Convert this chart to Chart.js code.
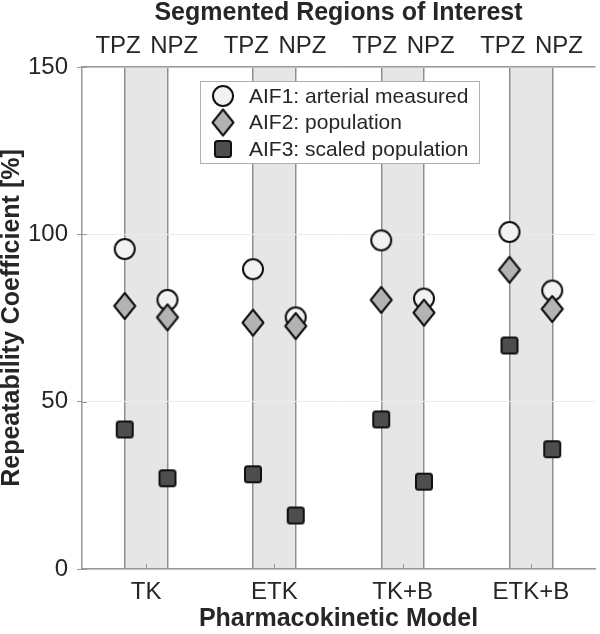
<!DOCTYPE html>
<html>
<head>
<meta charset="utf-8">
<script src="https://cdn.jsdelivr.net/npm/chart.js@4"></script>
<style>
  html, body { margin: 0; padding: 0; background: #fff; }
  #wrap { width: 600px; height: 634px; }
</style>
</head>
<body>
<div id="wrap"><canvas id="rcChart"></canvas></div>
<script>
// values
const models = ['TK', 'ETK', 'TK+B', 'ETK+B'];
const regions = ['TPZ', 'NPZ'];
const yTicks = [0, 50, 100, 150];

const aif1TPZ = [95.6, 89.6, 98.2, 100.7];
const aif1NPZ = [80.4, 75.2, 80.8, 83.2];
const aif2TPZ = [78.6, 73.6, 80.4, 89.4];
const aif2NPZ = [75.2, 72.6, 76.6, 77.7];
const aif3TPZ = [41.7, 28.3, 44.7, 66.8];
const aif3NPZ = [27.1, 16.0, 26.1, 35.8];

const seriesLabels = ['AIF1: arterial measured', 'AIF2: population', 'AIF3: scaled population'];

const OFF = 1 / 6;       // TPZ / NPZ offset around each model
const TEXT = '#262626';
const AXIS = '#999999';
const FONT = '"Liberation Sans", Arial, Helvetica, sans-serif';

Chart.defaults.font.family = FONT;
Chart.defaults.color = TEXT;

// region positions on the x scale: TPZ left, NPZ right of each model
const regionPos = [];
const regionText = [];
models.forEach((m, i) => {
    regionPos.push(i + 1 - OFF, i + 1 + OFF);
    regionText.push(regions[0] + '  ', '  ' + regions[1]);
});

function pairs(tpz, npz) {
    const pts = [];
    models.forEach((m, i) => {
        pts.push({ x: i + 1 - OFF, y: tpz[i] });
        pts.push({ x: i + 1 + OFF, y: npz[i] });
    });
    return pts;
}

// marker images
function makeMarker(kind) {
    const c = document.createElement('canvas');
    const ctx = c.getContext('2d');
    if (kind === 'circle') {
        c.width = 24; c.height = 24;
        ctx.lineWidth = 2;
        ctx.strokeStyle = '#111';
        ctx.fillStyle = '#f2f2f2';
        ctx.beginPath();
        ctx.arc(12, 12, 10, 0, Math.PI * 2);
        ctx.fill(); ctx.stroke();
    } else if (kind === 'diamond') {
        c.width = 26; c.height = 30;
        ctx.lineWidth = 2;
        ctx.strokeStyle = '#111';
        ctx.lineJoin = 'round';
        ctx.fillStyle = '#b3b3b3';
        ctx.beginPath();
        ctx.moveTo(13, 2); ctx.lineTo(23.5, 15); ctx.lineTo(13, 28); ctx.lineTo(2.5, 15);
        ctx.closePath();
        ctx.fill(); ctx.stroke();
    } else {
        c.width = 20; c.height = 20;
        ctx.lineWidth = 2;
        ctx.strokeStyle = '#111';
        ctx.fillStyle = '#4d4d4d';
        ctx.beginPath();
        ctx.roundRect(2, 2, 16, 16, 2.5);
        ctx.fill(); ctx.stroke();
    }
    return c;
}

const circleImg = makeMarker('circle');
const diamondImg = makeMarker('diamond');
const squareImg = makeMarker('square');

// grey band between TPZ and NPZ of each model
const bandSets = models.map((m, i) => ({
    type: 'line',
    data: [{ x: i + 1 - OFF, y: yTicks[yTicks.length - 1] }, { x: i + 1 + OFF, y: yTicks[yTicks.length - 1] }],
    fill: 'origin',
    backgroundColor: '#e6e6e6',
    borderWidth: 0,
    pointRadius: 0,
    order: 10
}));

const markerSets = [
    { label: seriesLabels[2], data: pairs(aif3TPZ, aif3NPZ), pointStyle: squareImg, inLegend: true },
    { label: seriesLabels[1], data: pairs(aif2TPZ, aif2NPZ), pointStyle: diamondImg, inLegend: true },
    { label: seriesLabels[0], data: pairs(aif1TPZ, aif1NPZ), pointStyle: circleImg, inLegend: true }
];

// small inward ticks at the model centres and on the y axis
const innerTicks = {
    id: 'innerTicks',
    beforeDatasetsDraw(chart) {
        const { ctx, chartArea, scales } = chart;
        ctx.save();
        ctx.strokeStyle = AXIS;
        ctx.lineWidth = 1;
        scales.x.ticks.forEach(t => {
            const px = Math.round(scales.x.getPixelForValue(t.value)) + 0.5;
            ctx.beginPath();
            ctx.moveTo(px, chartArea.bottom);
            ctx.lineTo(px, chartArea.bottom - 5);
            ctx.stroke();
        });
        scales.y.ticks.forEach(t => {
            const py = Math.round(scales.y.getPixelForValue(t.value)) + 0.5;
            ctx.beginPath();
            ctx.moveTo(chartArea.left, py);
            ctx.lineTo(chartArea.left + 5, py);
            ctx.stroke();
        });
        ctx.restore();
    }
};

// boxed legend inside the plot
const boxLegend = {
    id: 'boxLegend',
    afterDraw(chart) {
        const { ctx, chartArea } = chart;
        const items = chart.data.datasets.filter(d => d.inLegend).slice().reverse();
        const x0 = chartArea.left + 118, y0 = chartArea.top + 14, w = 279, h = 82;
        ctx.save();
        ctx.fillStyle = '#fff';
        ctx.fillRect(x0, y0, w, h);
        ctx.strokeStyle = '#b0b0b0';
        ctx.lineWidth = 1;
        ctx.strokeRect(x0 + 0.5, y0 + 0.5, w, h);
        ctx.font = '21px ' + FONT;
        ctx.fillStyle = TEXT;
        ctx.textBaseline = 'middle';
        items.forEach((d, i) => {
            const cy = y0 + 15 + i * 26.5;
            const img = d.pointStyle;
            ctx.drawImage(img, x0 + 23 - img.width / 2, cy - img.height / 2);
            ctx.fillText(d.label, x0 + 49, cy + 1);
        });
        ctx.restore();
    }
};

const ctx = document.getElementById('rcChart').getContext('2d');
new Chart(ctx, {
    type: 'scatter',
    data: { datasets: [...markerSets, ...bandSets] },
    plugins: [innerTicks, boxLegend],
    options: {
        responsive: true,
        maintainAspectRatio: false,
        animation: false,
        layout: { padding: 0 },
        plugins: {
            legend: { display: false },
            tooltip: { enabled: false },
            filler: { drawTime: 'beforeDraw' }
        },
        scales: {
            x: {
                type: 'linear',
                position: 'bottom',
                min: 0.5,
                max: 4.5,
                afterBuildTicks: s => { s.ticks = models.map((m, i) => ({ value: i + 1 })); },
                afterFit: s => { s.height = 65; },
                ticks: {
                    callback: v => models[Math.round(v) - 1],
                    font: { size: 24 },
                    color: TEXT,
                    padding: 9,
                    autoSkip: false,
                    maxRotation: 0,
                    minRotation: 0
                },
                grid: { drawOnChartArea: false, drawTicks: false },
                border: { color: AXIS, width: 1.5 },
                title: {
                    display: true,
                    text: 'Pharmacokinetic Model',
                    font: { size: 25, weight: 'bold', lineHeight: 1.2 },
                    color: TEXT,
                    padding: 0
                }
            },
            x2: {
                type: 'linear',
                position: 'top',
                min: 0.5,
                max: 4.5,
                afterBuildTicks: s => { s.ticks = regionPos.map(v => ({ value: v })); },
                afterFit: s => { s.height = 67; },
                ticks: {
                    callback: (v, i) => regionText[i],
                    font: { size: 24 },
                    color: TEXT,
                    padding: 6,
                    autoSkip: false,
                    maxRotation: 0,
                    minRotation: 0
                },
                grid: { color: '#8f8f8f', lineWidth: 1.5, drawTicks: false },
                border: { color: AXIS, width: 1.5 },
                title: {
                    display: true,
                    text: 'Segmented Regions of Interest',
                    font: { size: 25, weight: 'bold', lineHeight: 1 },
                    color: TEXT,
                    padding: { top: 1, bottom: 0 }
                }
            },
            y: {
                type: 'linear',
                min: 0,
                max: 150,
                afterBuildTicks: s => { s.ticks = yTicks.map(v => ({ value: v })); },
                afterFit: s => { s.width = 82; },
                ticks: {
                    font: { size: 24 },
                    color: TEXT,
                    padding: 9
                },
                grid: { color: '#ececec', tickColor: AXIS, tickLength: 5, lineWidth: 1 },
                border: { color: AXIS, width: 1.5 },
                title: {
                    display: true,
                    text: 'Repeatability Coefficient [%]',
                    font: { size: 25, weight: 'bold', lineHeight: 1 },
                    color: TEXT,
                    padding: 0
                }
            }
        }
    }
});
</script>
</body>
</html>
